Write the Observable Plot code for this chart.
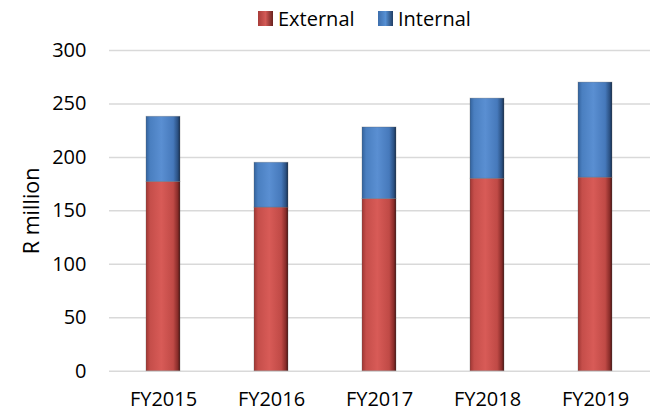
<!DOCTYPE html>
<html>
<head>
<meta charset="utf-8">
<script src="https://cdn.jsdelivr.net/npm/d3@7"></script>
<script src="https://cdn.jsdelivr.net/npm/@observablehq/plot@0.6"></script>
<style>
  body { margin: 0; background: #fff; font-family: "Open Sans", sans-serif; }
  #legend { position: relative; height: 36px; width: 665px; font-size: 20px; color: #000; }
  .item { position: absolute; top: 0; height: 36px; display: flex; align-items: center; }
  .sw { width: 15px; height: 15px; margin-right: 5px; }
</style>
</head>
<body>
<div id="legend">
  <div class="item" style="left:258px"><div class="sw" style="background:linear-gradient(90deg,#a83c39,#d35a56 50%,#6a221f)"></div><span>External</span></div>
  <div class="item" style="left:378px"><div class="sw" style="background:linear-gradient(90deg,#3d6eac,#5690d4 50%,#213f66)"></div><span>Internal</span></div>
</div>
<div id="chart"></div>
<script>
const years = ["FY2015", "FY2016", "FY2017", "FY2018", "FY2019"];
const series = ["External", "Internal"];
const external = [177, 153, 161, 180, 181];
const internal = [61, 42, 67, 75, 89];
const yTicks = [0, 50, 100, 150, 200, 250, 300];

const data = [];
years.forEach((y, i) => data.push({year: y, series: "External", value: external[i]}));
years.forEach((y, i) => data.push({year: y, series: "Internal", value: internal[i]}));

const defs = () => {
  const g = d3.create("svg:defs");
  const mk = (id, stops) => {
    const lg = g.append("linearGradient").attr("id", id).attr("x1", "0").attr("x2", "1").attr("y1", "0").attr("y2", "0");
    stops.forEach(([o, c]) => lg.append("stop").attr("offset", o).attr("stop-color", c));
  };
  mk("gRed", [["0", "#9e3633"], ["0.12", "#c54e4a"], ["0.45", "#d85b57"], ["0.8", "#c04a46"], ["0.93", "#8a2d2a"], ["1", "#4a1614"]]);
  mk("gBlue", [["0", "#33629c"], ["0.12", "#4a7fc0"], ["0.45", "#5a8fd2"], ["0.8", "#4679bb"], ["0.93", "#2c5284"], ["1", "#172f4f"]]);
  return g.node();
};

const chart = Plot.plot({
  width: 665,
  height: 376,
  marginLeft: 109,
  marginRight: 15,
  marginTop: 14,
  marginBottom: 41.3,
  style: {fontFamily: "Open Sans, sans-serif", fontSize: "20px", color: "#000", background: "#fff"},
  x: {domain: years, paddingInner: 0.685, paddingOuter: 0.345, label: null},
  y: {domain: [0, 300], label: null},
  color: {domain: series, range: ["url(#gRed)", "url(#gBlue)"]},
  marks: [
    defs,
    Plot.ruleY(yTicks, {stroke: "#d9d9d9", strokeWidth: 1.5}),
    Plot.barY(data, Plot.stackY({x: "year", y: "value", fill: "series", stroke: "#5a5a5a", strokeOpacity: 0.35, strokeWidth: 0.8})),
    Plot.axisY(yTicks, {tickSize: 0, tickPadding: 23, fontSize: 20, label: null}),
    Plot.axisX({tickSize: 0, tickPadding: 21, fontSize: 20, label: null}),
    Plot.text(["R million"], {frameAnchor: "left", dx: -77, rotate: -90, textAnchor: "middle", fontSize: 21.5})
  ]
});
document.getElementById("chart").appendChild(chart);
</script>
</body>
</html>
